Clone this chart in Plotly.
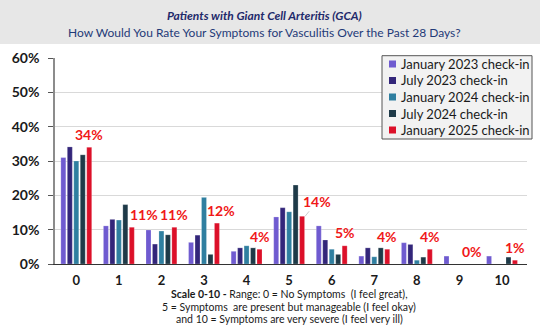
import plotly.graph_objects as go

categories = ["0", "1", "2", "3", "4", "5", "6", "7", "8", "9", "10"]
series_names = ["January 2023 check-in", "July 2023 check-in", "January 2024 check-in",
                "July 2024 check-in", "January 2025 check-in"]
jan23 = [31.0, 11.1, 9.9, 6.3, 3.7, 13.7, 11.1, 2.3, 6.2, 2.3, 2.3]
jul23 = [34.1, 13.0, 5.8, 8.4, 4.7, 16.4, 7.0, 4.7, 5.7, 0.0, 0.0]
jan24 = [30.0, 12.8, 9.6, 19.4, 5.3, 15.2, 4.3, 2.1, 1.1, 0.0, 0.0]
jul24 = [31.8, 17.3, 8.5, 2.8, 4.7, 23.0, 2.8, 4.7, 2.0, 0.0, 2.0]
jan25 = [34.0, 10.7, 10.7, 11.9, 4.3, 13.9, 5.3, 4.3, 4.3, 0.0, 1.1]
jan25_labels = ["34%", "11%", "11%", "12%", "4%", "14%", "5%", "4%", "4%", "0%", "1%"]
y_ticks = [0, 10, 20, 30, 40, 50, 60]
y_tick_text = ["0%", "10%", "20%", "30%", "40%", "50%", "60%"]

colors = ["#6f5bd0", "#33267a", "#2f7fa0", "#1e3a48", "#dc1029"]
label_xshift = [13, 25, 13, 17, 13, 16, 13, 13, 13, 13, 13]

FONT = "Lato"
W, H = 540, 331
L, R, T, B = 55, 13, 58, 67
plot_h = H - T - B
plot_w = W - L - R


def py(p):
    return (H - B - p) / plot_h


def px(p):
    return (p - L) / plot_w


fig = go.Figure()
for name, vals, col in zip(series_names, [jan23, jul23, jan24, jul24, jan25], colors):
    fig.add_trace(go.Bar(
        x=categories, y=vals, name=name, showlegend=False,
        marker=dict(color=col, line=dict(color="rgba(255,255,255,0.35)", width=0.6)),
    ))

annotations = []
for i, (c, v, t) in enumerate(zip(categories, jan25, jan25_labels)):
    if i == 5:
        annotations.append(dict(
            x=c, y=v, text=t, xref="x", yref="y", showarrow=True, arrowhead=0,
            arrowwidth=0.8, arrowcolor="#bfbfbf", ax=12, ay=-15, xshift=label_xshift[i],
            font=dict(family=FONT, size=14, color="#f01818", weight="bold"),
        ))
    else:
        annotations.append(dict(
            x=c, y=v, text=t, xref="x", yref="y", showarrow=False,
            xshift=label_xshift[i], yshift=13,
            font=dict(family=FONT, size=14, color="#f01818", weight="bold"),
        ))


def txt(x, y, text, size, color, xanchor="center"):
    return dict(x=px(x), y=py(y), xref="paper", yref="paper", showarrow=False,
                xanchor=xanchor, yanchor="middle", text=text,
                font=dict(family=FONT, size=size, color=color))


annotations += [
    txt(264, 15, "<b><i>Patients with Giant Cell Arteritis (GCA)</i></b>", 12, "#1f2a6b"),
    txt(264, 32.5, "How Would You Rate Your Symptoms for Vasculitis Over the Past 28 Days?", 12, "#1f3a78"),
    txt(289, 294, "<b>Scale 0-10 -</b> Range: 0 = No Symptoms  (I feel great),", 10.5, "#1a1a1a"),
    txt(289, 306.5, "5 = Symptoms  are present but manageable (I feel okay)", 10.5, "#1a1a1a"),
    txt(289, 319, "and 10 = Symptoms are very severe (I feel very ill)", 10.5, "#1a1a1a"),
]

shapes = [dict(type="rect", xref="paper", yref="paper", x0=px(0), x1=px(W),
               y0=py(44), y1=py(0), fillcolor="#e7e7e7", line=dict(width=0),
               layer="below")]

# legend box
leg_x0, leg_x1, leg_y0, leg_y1 = 382, 532, 55.7, 139
shapes.append(dict(type="rect", xref="paper", yref="paper",
                   x0=px(leg_x0), x1=px(leg_x1), y0=py(leg_y1), y1=py(leg_y0),
                   fillcolor="#f2f2f2", line=dict(color="#555555", width=1), layer="above"))
for k, (name, col) in enumerate(zip(series_names, colors)):
    cy = 64 + 16.5 * k
    shapes.append(dict(type="rect", xref="paper", yref="paper",
                       x0=px(389), x1=px(396), y0=py(cy + 3.5), y1=py(cy - 3.5),
                       fillcolor=col, line=dict(width=0), layer="above"))
    annotations.append(txt(399, cy, name, 13, "#1a1a1a", xanchor="left"))

fig.update_layout(
    width=W, height=H,
    margin=dict(l=L, r=R, t=T, b=B),
    paper_bgcolor="white", plot_bgcolor="white",
    barmode="group", bargap=0.24, bargroupgap=0.23,
    font=dict(family=FONT, color="#1a1a1a"),
    showlegend=False,
    annotations=annotations,
    shapes=shapes,
)
fig.update_yaxes(
    range=[0, 60], tickvals=y_ticks, ticktext=y_tick_text,
    showgrid=True, gridcolor="#d9d9d9", gridwidth=1,
    showline=True, linecolor="#8c8c8c", linewidth=1.5,
    ticks="outside", ticklen=5, tickcolor="#555555",
    tickfont=dict(family=FONT, size=14, color="#1a1a1a", weight="bold"),
    ticklabelstandoff=6, zeroline=False,
)
fig.update_xaxes(
    type="category", showline=True, linecolor="#333333", linewidth=1,
    ticks="", showgrid=False, ticklabelstandoff=4,
    tickfont=dict(family=FONT, size=13, color="#1a1a1a", weight="bold"),
)

fig.write_html("out.html")
